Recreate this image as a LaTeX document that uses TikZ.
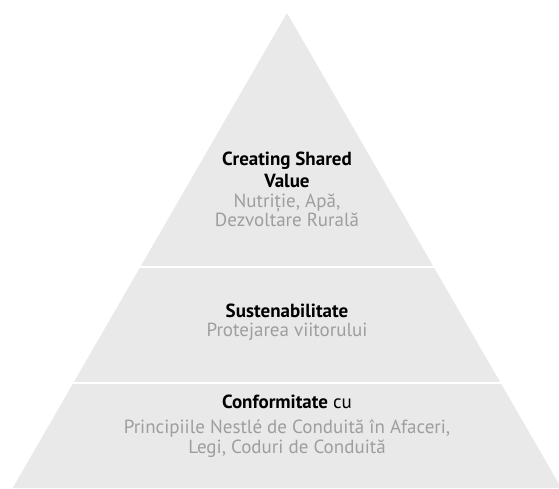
\documentclass[tikz,border=0pt]{standalone}
\usepackage{fontspec}
\setmainfont{PT Sans}
\definecolor{pyrfill}{HTML}{E9E9E9}
\definecolor{subgray}{HTML}{9E9E9E}
\tikzset{
  layertitle/.style={font=\fontsize{19}{22}\selectfont\bfseries, text=black},
  layersub/.style={font=\fontsize{19}{22}\selectfont, text=subgray},
}
\begin{document}
\begin{tikzpicture}[x=1pt,y=-1pt]
\clip (0,0) rectangle (559,488);
\fill [white] (0,0) rectangle (559,488);

% pyramid
\coordinate (apex) at (287,13);
\fill [pyrfill] (apex) -- (12.7,488) -- (561.3,488) -- cycle;
\draw [white, line width=2.5] (0,267) -- (559,267);
\draw [white, line width=2.5] (0,383) -- (559,383);

% top
\node [layertitle, anchor=base] (csv1) at (287,165) {Creating Shared};
\node [layertitle, anchor=base] (csv2) at (287,187) {Value};
\node [layersub, anchor=base] (csv3) at (287,207) {Nutriție, Apă,};
\node [layersub, anchor=base] (csv4) at (287,226) {Dezvoltare Rurală};

% middle
\node [layertitle, anchor=base] (sus1) at (287,317) {Sustenabilitate};
\node [layersub, anchor=base] (sus2) at (287,336) {Protejarea viitorului};

% bottom
\node [anchor=base, font=\fontsize{19}{22}\selectfont] (conf1) at (287,408) {\textbf{Conformitate} cu};
\node [layersub, anchor=base] (conf2) at (287,433) {Principiile Nestlé de Conduită în Afaceri,};
\node [layersub, anchor=base] (conf3) at (287,453) {Legi, Coduri de Conduită};
\end{tikzpicture}
\end{document}
